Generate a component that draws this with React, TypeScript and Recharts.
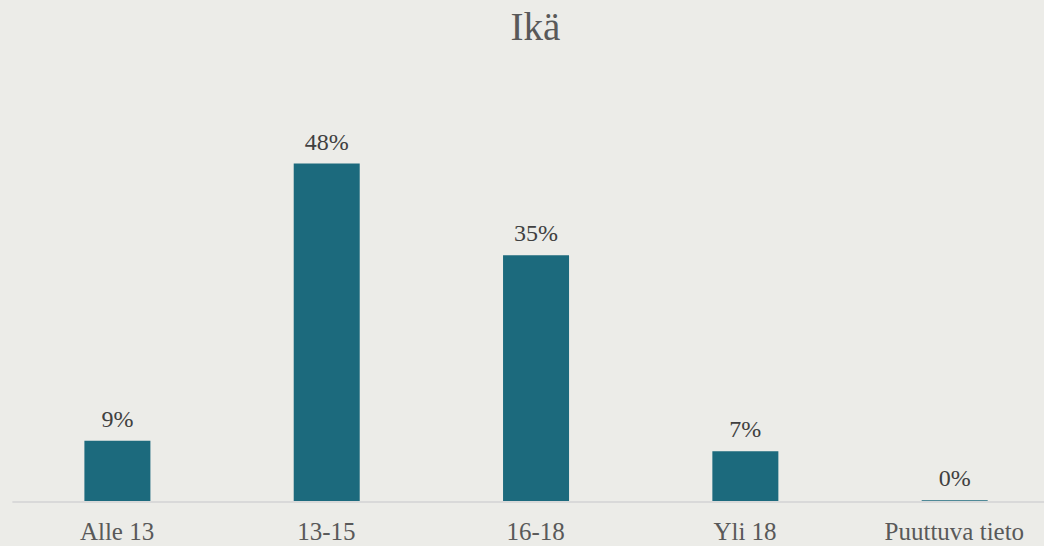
import { BarChart, Bar, XAxis, YAxis, LabelList } from "recharts";

const categories = ["Alle 13", "13-15", "16-18", "Yli 18", "Puuttuva tieto"];
const shares = [8.7, 48, 35, 7.2, 0.25];

const data = categories.map((name, i) => ({ name, value: shares[i] }));

const FONT = '"Liberation Serif", "DejaVu Serif", serif';

const AgeChart = () => {
  return (
    <div
      style={{
        position: "absolute",
        left: 0,
        top: 0,
        width: 1044,
        height: 546,
        overflow: "hidden",
        background: "#ECECE8",
        fontFamily: FONT,
      }}
    >
      <div
        style={{
          position: "absolute",
          left: 0,
          top: 6,
          width: 1071,
          textAlign: "center",
          fontSize: 39,
          color: "#595959",
          lineHeight: "42px",
        }}
      >
        Ikä
      </div>
      <BarChart
        width={1071}
        height={546}
        data={data}
        margin={{ top: 149.5, right: 12, left: 12.4, bottom: 0 }}
        barSize={66}
      >
        <XAxis
          dataKey="name"
          height={44}
          tickLine={false}
          axisLine={{ stroke: "#D9D9D9", strokeWidth: 2 }}
          tick={{ fontSize: 25, fill: "#595959", fontFamily: FONT }}
          tickMargin={14}
        />
        <YAxis hide domain={[0, 50]} />
        <Bar dataKey="value" fill="#1C6A7D" isAnimationActive={false}>
          <LabelList
            dataKey="value"
            position="top"
            offset={14}
            formatter={(v: any) => `${Math.round(Number(v))}%`}
            style={{ fontSize: 24, fill: "#404040", fontFamily: FONT }}
          />
        </Bar>
      </BarChart>
    </div>
  );
};

export default function App() {
  return <AgeChart />;
}
